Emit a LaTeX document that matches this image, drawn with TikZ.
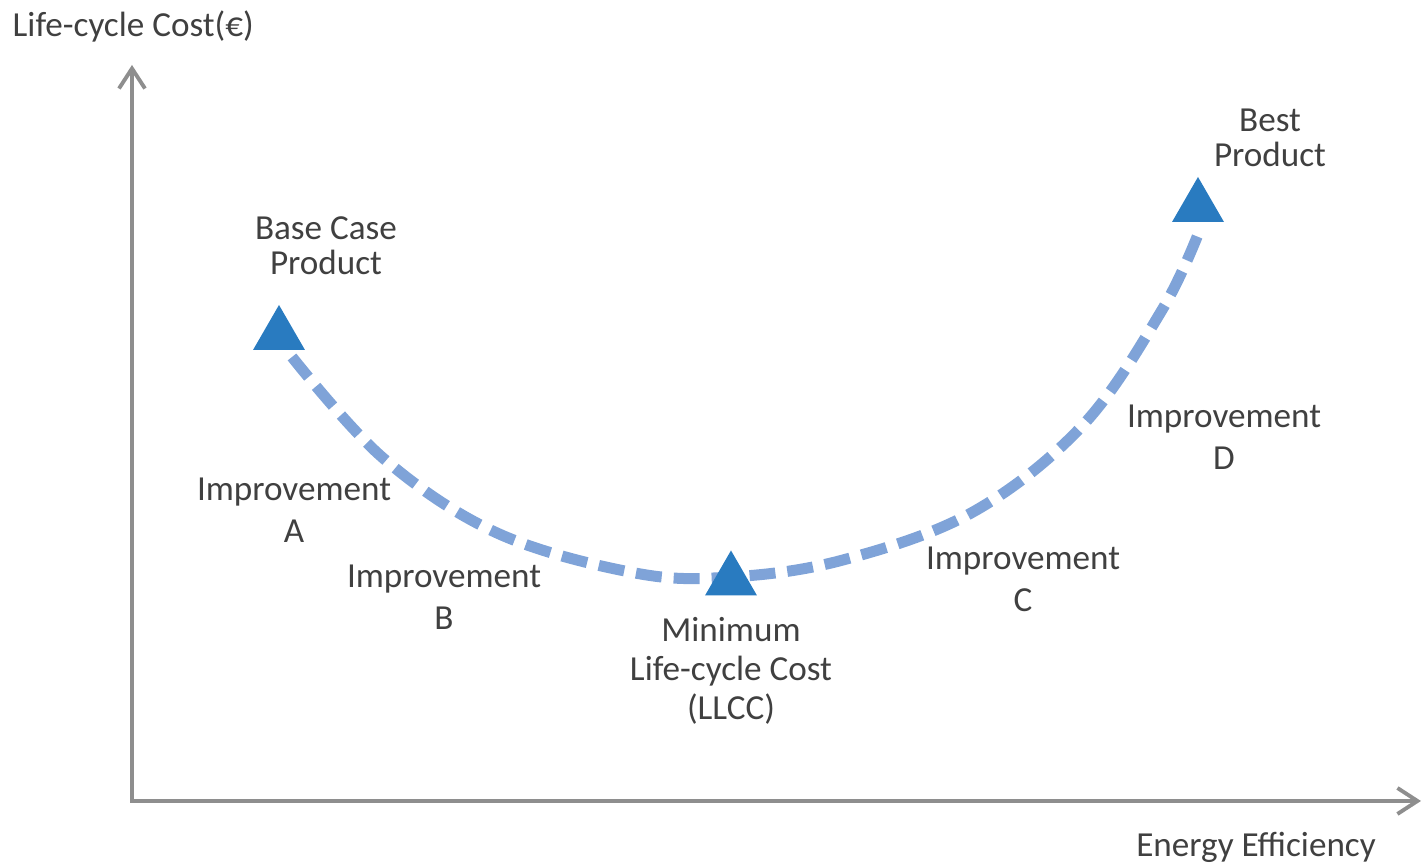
\documentclass[tikz,border=0pt]{standalone}
\usepackage{fontspec}
\setmainfont{Carlito}
\usetikzlibrary{arrows.meta,shapes.geometric}
\definecolor{axisgray}{RGB}{142,142,142}
\definecolor{pointblue}{RGB}{41,123,192}
\definecolor{lccblue}{RGB}{127,163,216}
\definecolor{labelgray}{RGB}{64,64,64}
\begin{document}
\begin{tikzpicture}[>={Straight Barb[length=2mm,width=2.6mm]},
	axis/.style={draw=axisgray,line width=1.1pt},
	point/.style={regular polygon,regular polygon sides=3,fill=pointblue,inner sep=0pt,minimum size=0.6cm},
	lcc/.style={draw=lccblue,line width=0.11cm,dash pattern=on 0.26cm off 0.12cm},
	lbl/.style={text=labelgray,align=center,anchor=base,inner sep=0pt,font=\fontsize{10}{12.2}\selectfont}]
	\useasboundingbox (0,0) rectangle (14.22,8.64);
	% axes
	\draw [axis,->] (1.32,0.63)--(1.32,7.99);
	\draw [axis,->] (1.30,0.63)--(14.21,0.63);
	\node [lbl,anchor=base west] (ylab) at (0.12,8.27) {Life-cycle Cost(€)};
	\node [lbl] (xlab) at (12.56,0.07) {Energy Efficiency};
	% cost curve
	\draw [lcc] plot[smooth,tension=0.6] coordinates {(2.92,5.07) (3.83,4.06) (4.97,3.31) (6.35,2.91) (7.31,2.87) (8.43,3.04) (9.73,3.52) (10.83,4.39) (11.62,5.54) (11.99,6.32)};
	% products
	\node [point] (base) at (2.79,5.29) {};
	\node [point] (llcc) at (7.31,2.835) {};
	\node [point] (best) at (11.98,6.57) {};
	\node [lbl,font=\fontsize{10}{10}\selectfont] (basetxt) at (3.26,5.89) {Base Case\\Product};
	\node [lbl,font=\fontsize{10}{10}\selectfont] (besttxt) at (12.70,6.97) {Best\\Product};
	\node [lbl,font=\fontsize{10}{11.1}\selectfont] (llcctxt) at (7.31,1.44) {Minimum\\Life-cycle Cost\\(LLCC)};
	% improvements
	\node [lbl] (impA) at (2.94,3.21) {Improvement\\A};
	\node [lbl] (impB) at (4.44,2.34) {Improvement\\B};
	\node [lbl] (impC) at (10.23,2.52) {Improvement\\C};
	\node [lbl] (impD) at (12.24,3.94) {Improvement\\D};
\end{tikzpicture}
\end{document}
